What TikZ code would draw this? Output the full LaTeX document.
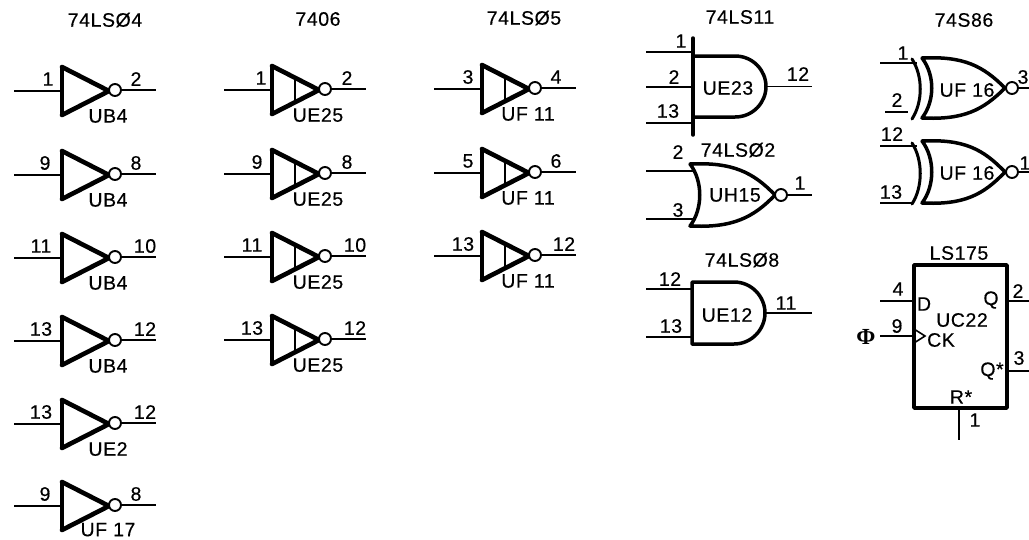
\documentclass[tikz,border=0pt]{standalone}
\usepackage{fontspec}
\setmainfont[LetterSpace=3,FakeBold=0.35]{Liberation Sans}
\newfontfamily\phifont{Liberation Serif}
\tikzset{
  wire/.style={line width=1.3pt},
  gateline/.style={line width=3.5pt,line join=round,line cap=round},
  slantline/.style={line width=4.6pt,line join=round,line cap=round},
  thinline/.style={line width=2.2pt},
  bubble/.style={circle,draw,fill=white,line width=1.9pt,minimum size=12pt,inner sep=0pt},
  lab/.style={inner sep=0pt,font=\fontsize{19.5}{21}\selectfont},
}
% name, x, y, input label, its x, output label, its x, reference
\newcommand{\invbody}[8]{
  \coordinate (#1-t) at (#2,#3-23);
  \coordinate (#1-u) at (#2,#3+25);
  \coordinate (#1-a) at (#2+47,#3+1);
  \coordinate (#1-i) at (#2-48,#3+1);
  \coordinate (#1-p) at (#2,#3+1);
  \coordinate (#1-o) at (#2+94,#3);
  \draw[gateline] (#1-t) -- (#1-u);
  \draw[slantline] (#1-t) -- (#1-a) -- (#1-u);
  \node[bubble] (#1-b) at (#2+53,#3) {};
  \draw[wire] (#1-i) -- (#1-p);
  \draw[wire] (#1-b.east) -- (#1-o);
  \node[lab] (#1-il) at (#5,#3-11) {#4};
  \node[lab] (#1-ol) at (#7,#3-11) {#6};
  \node[lab] (#1-r) at (#2+46,#3+26) {#8};
}
\newcommand{\invoc}[8]{
  \invbody{#1}{#2}{#3}{#4}{#5}{#6}{#7}{#8}
  \draw[thinline] (#2+23,#3-12) -- (#2+23,#3+13);
}
% name, xleft, top, bottom, closing
\newcommand{\andbody}[5]{
  \coordinate (#1-a) at (#2,#3);
  \coordinate (#1-b) at (#2+42,#3);
  \coordinate (#1-c) at (#2+73,#3/2+#4/2);
  \coordinate (#1-d) at (#2+42,#4);
  \coordinate (#1-e) at (#2,#4);
  \draw[gateline] (#1-a) -- (#1-b) .. controls (#2+60,#3) and (#2+73,#3/2+#4/2-16) .. (#1-c)
     .. controls (#2+73,#3/2+#4/2+16) and (#2+60,#4) .. (#1-d) -- (#1-e) #5;
}
% name, xtip, top, bottom, xapex
\newcommand{\orbody}[5]{
  \coordinate (#1-a) at (#2,#3);
  \coordinate (#1-c) at (#5,#3/2+#4/2);
  \coordinate (#1-e) at (#2,#4);
  \draw[gateline] (#1-a) .. controls (#2+42,#3-2) and (#5-22,#3+8) .. (#1-c)
     .. controls (#5-22,#4-8) and (#2+42,#4+2) .. (#1-e)
     .. controls (#2+13,#4-17) and (#2+13,#3+17) .. (#1-a);
}
\newcommand{\orback}[4]{
  \coordinate (#1-f) at (#2,#3);
  \coordinate (#1-g) at (#2,#4);
  \draw[gateline,line width=3pt] (#1-f) .. controls (#2+11,#3+17) and (#2+11,#4-17) .. (#1-g);
}
\begin{document}
\begin{tikzpicture}[x=1pt,y=-1pt]
\useasboundingbox (0,0) rectangle (1029,539);

% titles
\node[lab] (t1) at (105,20) {74LSØ4};
\node[lab] (t2) at (318,19) {7406};
\node[lab] (t3) at (524,18) {74LSØ5};
\node[lab] (t4) at (740,17) {74LS11};
\node[lab] (t5) at (964,20) {74S86};

% column 1
\invbody{a1}{62}{90}{1}{48}{2}{136}{UB4}
\invbody{a2}{62}{174}{9}{45}{8}{136}{UB4}
\invbody{a3}{62}{257}{11}{41}{10}{145}{UB4}
\invbody{a4}{62}{340}{13}{41}{12}{145}{UB4}
\invbody{a5}{62}{423}{13}{41}{12}{145}{UE2}
\invbody{a6}{62}{505}{9}{45}{8}{136}{\raisebox{3pt}{UF 17}}

% column 2
\invoc{b1}{272}{89}{1}{261}{2}{347}{UE25}
\invoc{b2}{272}{173}{9}{257}{8}{347}{UE25}
\invoc{b3}{272}{256}{11}{252}{10}{355}{UE25}
\invoc{b4}{272}{339}{13}{252}{12}{355}{UE25}

% column 3
\invoc{c1}{482}{88}{3}{468}{4}{556}{UF 11}
\invoc{c2}{482}{172}{5}{468}{6}{556}{UF 11}
\invoc{c3}{482}{255}{13}{463}{12}{564}{UF 11}

% 74LS11
\andbody{d}{693}{56}{117}{}
\coordinate (d-bt) at (693,38);
\coordinate (d-bb) at (693,135);
\draw[gateline] (d-bt) -- (d-bb);
\foreach \n/\yy in {1/52,2/87,3/123}{
  \coordinate (d-i\n) at (646,\yy);
  \coordinate (d-j\n) at (693,\yy);
  \draw[wire] (d-i\n) -- (d-j\n);
}
\coordinate (d-o) at (812,86.5);
\draw[wire] (d-c) -- (d-o);
\node[lab] (d-l1) at (681,41) {1};
\node[lab] (d-l2) at (674,77) {2};
\node[lab] (d-l3) at (668,111) {13};
\node[lab] (d-l4) at (798,74) {12};
\node[lab] (d-r) at (728,88) {UE23};

% 74LS02
\node[lab] (t6) at (738,150) {74LSØ2};
\orbody{e}{690}{164}{226}{775}
\node[bubble] (e-b) at (781,195) {};
\foreach \n/\yy in {1/171,2/219}{
  \coordinate (e-i\n) at (646,\yy);
  \coordinate (e-j\n) at (693,\yy);
  \draw[wire] (e-i\n) -- (e-j\n);
}
\coordinate (e-o) at (812,195);
\draw[wire] (e-b.east) -- (e-o);
\node[lab] (e-l1) at (678,152) {2};
\node[lab] (e-l2) at (678,210) {3};
\node[lab] (e-l3) at (800,183) {1};
\node[lab] (e-r) at (735,195) {UH15};

% 74LS08
\node[lab] (t7) at (742,260) {74LSØ8};
\andbody{f}{692}{282}{344}{-- cycle}
\foreach \n/\yy in {1/289,2/337}{
  \coordinate (f-i\n) at (646,\yy);
  \coordinate (f-j\n) at (692,\yy);
  \draw[wire] (f-i\n) -- (f-j\n);
}
\coordinate (f-o) at (812,313);
\draw[wire] (f-c) -- (f-o);
\node[lab] (f-l1) at (670,279) {12};
\node[lab] (f-l2) at (671,326) {13};
\node[lab] (f-l3) at (786,303) {11};
\node[lab] (f-r) at (727,315) {UE12};

% 74S86 upper
\orbody{g}{922}{58}{118}{1005}
\orback{g}{912}{59}{119}
\node[bubble] (g-b) at (1012,88) {};
\coordinate (g-i1) at (880,63);  \coordinate (g-j1) at (917,63);
\coordinate (g-i2) at (885,112); \coordinate (g-j2) at (908,112);
\draw[wire] (g-i1) -- (g-j1);
\draw[wire] (g-i2) -- (g-j2);
\coordinate (g-o) at (1029,88);
\draw[wire] (g-b.east) -- (g-o);
\node[lab] (g-l1) at (903,53) {1};
\node[lab] (g-l2) at (897,100) {2};
\node[lab] (g-l3) at (1023,77) {3};
\node[lab] (g-r) at (967,90) {UF 16};

% 74S86 lower
\orbody{h}{922}{141}{203}{1005}
\orback{h}{912}{143}{204}
\node[bubble] (h-b) at (1012,172) {};
\coordinate (h-i1) at (880,146); \coordinate (h-j1) at (917,146);
\coordinate (h-i2) at (880,203); \coordinate (h-j2) at (913,203);
\draw[wire] (h-i1) -- (h-j1);
\draw[wire] (h-i2) -- (h-j2);
\coordinate (h-o) at (1029,172);
\draw[wire] (h-b.east) -- (h-o);
\node[lab] (h-l1) at (892,134) {12};
\node[lab] (h-l2) at (891,192) {13};
\node[lab] (h-l3) at (1025,163) {1};
\node[lab] (h-r) at (967,173) {UF 16};

% LS175
\node[lab] (t8) at (959,253) {LS175};
\node[draw,gateline,minimum width=93pt,minimum height=143pt,inner sep=0pt] (ff) at (960.5,336.5) {};
\coordinate (ff-di) at (880,301);  \coordinate (ff-dj) at (914,301);
\coordinate (ff-ci) at (880,336);  \coordinate (ff-cj) at (914,336);
\coordinate (ff-qa) at (1007,301); \coordinate (ff-qb) at (1029,301);
\coordinate (ff-na) at (1007,371); \coordinate (ff-nb) at (1029,371);
\coordinate (ff-ra) at (959,408);  \coordinate (ff-rb) at (959,440);
\coordinate (ff-k1) at (914,329);  \coordinate (ff-k2) at (925,336); \coordinate (ff-k3) at (914,343);
\draw[wire] (ff-di) -- (ff-dj);
\draw[wire] (ff-ci) -- (ff-cj);
\draw[wire] (ff-qa) -- (ff-qb);
\draw[wire] (ff-na) -- (ff-nb);
\draw[wire] (ff-ra) -- (ff-rb);
\draw[wire,line width=1.6pt] (ff-k1) -- (ff-k2) -- (ff-k3);
\node[lab] (ff-l1) at (898,289) {4};
\node[lab] (ff-l2) at (897,326) {9};
\node[lab] (ff-l3) at (1018,291) {2};
\node[lab] (ff-l4) at (1019,358) {3};
\node[lab] (ff-l5) at (975,420) {1};
\node[lab,font=\fontsize{23}{24}\selectfont] (ff-phi) at (866,337) {\phifont\bfseries Φ};
\node[lab] (ff-d) at (924,304) {D};
\node[lab] (ff-u) at (962,320) {UC22};
\node[lab] (ff-c) at (941,340) {CK};
\node[lab] (ff-q) at (991,300) {Q};
\node[lab] (ff-n) at (992,371) {Q*};
\node[lab] (ff-r) at (961,397) {R*};
\end{tikzpicture}
\end{document}
